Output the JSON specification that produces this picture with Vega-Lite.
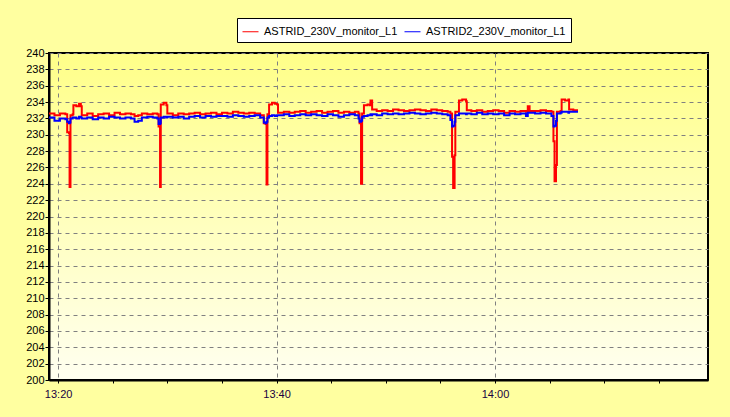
{
  "$schema": "https://vega.github.io/schema/vega-lite/v6.json",
  "width": 659,
  "height": 327,
  "autosize": {"type": "none"},
  "padding": {"left": 49, "top": 53, "right": 22, "bottom": 37},
  "background": "#FFFFA0",
  "config": {
    "font": "Liberation Sans",
    "view": {
      "fill": {"gradient": "linear", "x1": 0, "y1": 0, "x2": 0, "y2": 1, "stops": [{"offset": 0, "color": "#FFFF88"}, {"offset": 1, "color": "#FFFFF0"}]},
      "stroke": "#000000",
      "strokeWidth": 2
    },
    "axis": {
      "gridColor": "#808080",
      "gridDash": [4, 4],
      "gridWidth": 1,
      "gridOpacity": 1,
      "domainColor": "#000000",
      "domainWidth": 2,
      "tickColor": "#000000",
      "tickWidth": 1,
      "labelFont": "Liberation Sans",
      "labelFontSize": 11,
      "labelColor": "#000000"
    }
  },
  "data": {
    "format": {"parse": {"t": "date:'%H:%M:%S'"}},
    "values": [
      {"t": "13:19:10", "ASTRID_230V_monitor_L1": 232.6, "ASTRID2_230V_monitor_L1": 232.1},
      {"t": "13:19:40", "ASTRID_230V_monitor_L1": 232.4, "ASTRID2_230V_monitor_L1": 231.7},
      {"t": "13:20:10", "ASTRID_230V_monitor_L1": 232.6, "ASTRID2_230V_monitor_L1": 232.0},
      {"t": "13:20:40", "ASTRID_230V_monitor_L1": 232.5, "ASTRID2_230V_monitor_L1": 231.9},
      {"t": "13:20:50", "ASTRID_230V_monitor_L1": 230.3, "ASTRID2_230V_monitor_L1": 231.6},
      {"t": "13:21:00", "ASTRID_230V_monitor_L1": 230.2, "ASTRID2_230V_monitor_L1": 231.4},
      {"t": "13:21:03", "ASTRID_230V_monitor_L1": 223.6, "ASTRID2_230V_monitor_L1": 231.5},
      {"t": "13:21:08", "ASTRID_230V_monitor_L1": 232.4, "ASTRID2_230V_monitor_L1": 232.0},
      {"t": "13:21:20", "ASTRID_230V_monitor_L1": 232.5, "ASTRID2_230V_monitor_L1": 232.1},
      {"t": "13:21:24", "ASTRID_230V_monitor_L1": 233.6, "ASTRID2_230V_monitor_L1": 232.1},
      {"t": "13:21:40", "ASTRID_230V_monitor_L1": 233.5, "ASTRID2_230V_monitor_L1": 232.0},
      {"t": "13:21:55", "ASTRID_230V_monitor_L1": 233.8, "ASTRID2_230V_monitor_L1": 232.2},
      {"t": "13:22:05", "ASTRID_230V_monitor_L1": 233.5, "ASTRID2_230V_monitor_L1": 232.1},
      {"t": "13:22:10", "ASTRID_230V_monitor_L1": 232.4, "ASTRID2_230V_monitor_L1": 232.0},
      {"t": "13:22:40", "ASTRID_230V_monitor_L1": 232.6, "ASTRID2_230V_monitor_L1": 232.1},
      {"t": "13:23:10", "ASTRID_230V_monitor_L1": 232.3, "ASTRID2_230V_monitor_L1": 231.9},
      {"t": "13:23:40", "ASTRID_230V_monitor_L1": 232.5, "ASTRID2_230V_monitor_L1": 232.1},
      {"t": "13:24:10", "ASTRID_230V_monitor_L1": 232.6, "ASTRID2_230V_monitor_L1": 232.0},
      {"t": "13:24:40", "ASTRID_230V_monitor_L1": 232.4, "ASTRID2_230V_monitor_L1": 232.2},
      {"t": "13:25:10", "ASTRID_230V_monitor_L1": 232.7, "ASTRID2_230V_monitor_L1": 232.1},
      {"t": "13:25:40", "ASTRID_230V_monitor_L1": 232.5, "ASTRID2_230V_monitor_L1": 232.0},
      {"t": "13:26:10", "ASTRID_230V_monitor_L1": 232.6, "ASTRID2_230V_monitor_L1": 232.1},
      {"t": "13:26:40", "ASTRID_230V_monitor_L1": 232.5, "ASTRID2_230V_monitor_L1": 232.0},
      {"t": "13:27:00", "ASTRID_230V_monitor_L1": 232.3, "ASTRID2_230V_monitor_L1": 231.6},
      {"t": "13:27:20", "ASTRID_230V_monitor_L1": 232.4, "ASTRID2_230V_monitor_L1": 231.7},
      {"t": "13:27:40", "ASTRID_230V_monitor_L1": 232.6, "ASTRID2_230V_monitor_L1": 232.1},
      {"t": "13:28:10", "ASTRID_230V_monitor_L1": 232.5, "ASTRID2_230V_monitor_L1": 232.2},
      {"t": "13:28:40", "ASTRID_230V_monitor_L1": 232.6, "ASTRID2_230V_monitor_L1": 232.1},
      {"t": "13:29:05", "ASTRID_230V_monitor_L1": 232.5, "ASTRID2_230V_monitor_L1": 232.0},
      {"t": "13:29:12", "ASTRID_230V_monitor_L1": 231.0, "ASTRID2_230V_monitor_L1": 231.3},
      {"t": "13:29:20", "ASTRID_230V_monitor_L1": 223.6, "ASTRID2_230V_monitor_L1": 231.4},
      {"t": "13:29:24", "ASTRID_230V_monitor_L1": 233.7, "ASTRID2_230V_monitor_L1": 232.1},
      {"t": "13:29:40", "ASTRID_230V_monitor_L1": 233.9, "ASTRID2_230V_monitor_L1": 232.2},
      {"t": "13:29:55", "ASTRID_230V_monitor_L1": 233.6, "ASTRID2_230V_monitor_L1": 232.1},
      {"t": "13:30:00", "ASTRID_230V_monitor_L1": 232.6, "ASTRID2_230V_monitor_L1": 232.2},
      {"t": "13:30:30", "ASTRID_230V_monitor_L1": 232.4, "ASTRID2_230V_monitor_L1": 232.1},
      {"t": "13:31:00", "ASTRID_230V_monitor_L1": 232.6, "ASTRID2_230V_monitor_L1": 232.2},
      {"t": "13:31:30", "ASTRID_230V_monitor_L1": 232.5, "ASTRID2_230V_monitor_L1": 232.0},
      {"t": "13:32:00", "ASTRID_230V_monitor_L1": 232.6, "ASTRID2_230V_monitor_L1": 232.2},
      {"t": "13:32:30", "ASTRID_230V_monitor_L1": 232.7, "ASTRID2_230V_monitor_L1": 232.3},
      {"t": "13:33:00", "ASTRID_230V_monitor_L1": 232.5, "ASTRID2_230V_monitor_L1": 232.1},
      {"t": "13:33:30", "ASTRID_230V_monitor_L1": 232.6, "ASTRID2_230V_monitor_L1": 232.3},
      {"t": "13:34:00", "ASTRID_230V_monitor_L1": 232.7, "ASTRID2_230V_monitor_L1": 232.2},
      {"t": "13:34:30", "ASTRID_230V_monitor_L1": 232.5, "ASTRID2_230V_monitor_L1": 232.3},
      {"t": "13:35:00", "ASTRID_230V_monitor_L1": 232.7, "ASTRID2_230V_monitor_L1": 232.3},
      {"t": "13:35:30", "ASTRID_230V_monitor_L1": 232.6, "ASTRID2_230V_monitor_L1": 232.2},
      {"t": "13:36:00", "ASTRID_230V_monitor_L1": 232.8, "ASTRID2_230V_monitor_L1": 232.4},
      {"t": "13:36:30", "ASTRID_230V_monitor_L1": 232.7, "ASTRID2_230V_monitor_L1": 232.3},
      {"t": "13:37:00", "ASTRID_230V_monitor_L1": 232.6, "ASTRID2_230V_monitor_L1": 232.2},
      {"t": "13:37:30", "ASTRID_230V_monitor_L1": 232.7, "ASTRID2_230V_monitor_L1": 232.3},
      {"t": "13:38:00", "ASTRID_230V_monitor_L1": 232.6, "ASTRID2_230V_monitor_L1": 232.4},
      {"t": "13:38:30", "ASTRID_230V_monitor_L1": 232.4, "ASTRID2_230V_monitor_L1": 232.1},
      {"t": "13:38:50", "ASTRID_230V_monitor_L1": 231.4, "ASTRID2_230V_monitor_L1": 231.5},
      {"t": "13:39:00", "ASTRID_230V_monitor_L1": 231.3, "ASTRID2_230V_monitor_L1": 231.4},
      {"t": "13:39:05", "ASTRID_230V_monitor_L1": 223.9, "ASTRID2_230V_monitor_L1": 231.6},
      {"t": "13:39:10", "ASTRID_230V_monitor_L1": 232.5, "ASTRID2_230V_monitor_L1": 232.1},
      {"t": "13:39:19", "ASTRID_230V_monitor_L1": 233.7, "ASTRID2_230V_monitor_L1": 232.3},
      {"t": "13:39:35", "ASTRID_230V_monitor_L1": 233.9, "ASTRID2_230V_monitor_L1": 232.4},
      {"t": "13:39:50", "ASTRID_230V_monitor_L1": 233.8, "ASTRID2_230V_monitor_L1": 232.3},
      {"t": "13:40:03", "ASTRID_230V_monitor_L1": 233.7, "ASTRID2_230V_monitor_L1": 232.4},
      {"t": "13:40:08", "ASTRID_230V_monitor_L1": 232.7, "ASTRID2_230V_monitor_L1": 232.4},
      {"t": "13:40:40", "ASTRID_230V_monitor_L1": 232.8, "ASTRID2_230V_monitor_L1": 232.5},
      {"t": "13:41:10", "ASTRID_230V_monitor_L1": 232.7, "ASTRID2_230V_monitor_L1": 232.3},
      {"t": "13:41:40", "ASTRID_230V_monitor_L1": 232.8, "ASTRID2_230V_monitor_L1": 232.4},
      {"t": "13:42:10", "ASTRID_230V_monitor_L1": 232.9, "ASTRID2_230V_monitor_L1": 232.5},
      {"t": "13:42:40", "ASTRID_230V_monitor_L1": 232.7, "ASTRID2_230V_monitor_L1": 232.4},
      {"t": "13:43:10", "ASTRID_230V_monitor_L1": 232.8, "ASTRID2_230V_monitor_L1": 232.5},
      {"t": "13:43:40", "ASTRID_230V_monitor_L1": 232.9, "ASTRID2_230V_monitor_L1": 232.4},
      {"t": "13:44:10", "ASTRID_230V_monitor_L1": 232.7, "ASTRID2_230V_monitor_L1": 232.3},
      {"t": "13:44:40", "ASTRID_230V_monitor_L1": 232.8, "ASTRID2_230V_monitor_L1": 232.5},
      {"t": "13:45:10", "ASTRID_230V_monitor_L1": 232.9, "ASTRID2_230V_monitor_L1": 232.4},
      {"t": "13:45:40", "ASTRID_230V_monitor_L1": 232.7, "ASTRID2_230V_monitor_L1": 232.2},
      {"t": "13:46:10", "ASTRID_230V_monitor_L1": 232.8, "ASTRID2_230V_monitor_L1": 232.4},
      {"t": "13:46:40", "ASTRID_230V_monitor_L1": 232.7, "ASTRID2_230V_monitor_L1": 232.5},
      {"t": "13:47:10", "ASTRID_230V_monitor_L1": 232.8, "ASTRID2_230V_monitor_L1": 232.4},
      {"t": "13:47:30", "ASTRID_230V_monitor_L1": 232.6, "ASTRID2_230V_monitor_L1": 232.0},
      {"t": "13:47:36", "ASTRID_230V_monitor_L1": 231.4, "ASTRID2_230V_monitor_L1": 231.6},
      {"t": "13:47:44", "ASTRID_230V_monitor_L1": 224.0, "ASTRID2_230V_monitor_L1": 231.7},
      {"t": "13:47:50", "ASTRID_230V_monitor_L1": 232.6, "ASTRID2_230V_monitor_L1": 232.2},
      {"t": "13:48:00", "ASTRID_230V_monitor_L1": 233.6, "ASTRID2_230V_monitor_L1": 232.3},
      {"t": "13:48:20", "ASTRID_230V_monitor_L1": 233.7, "ASTRID2_230V_monitor_L1": 232.4},
      {"t": "13:48:33", "ASTRID_230V_monitor_L1": 233.6, "ASTRID2_230V_monitor_L1": 232.4},
      {"t": "13:48:36", "ASTRID_230V_monitor_L1": 234.2, "ASTRID2_230V_monitor_L1": 232.5},
      {"t": "13:48:42", "ASTRID_230V_monitor_L1": 234.2, "ASTRID2_230V_monitor_L1": 232.4},
      {"t": "13:48:45", "ASTRID_230V_monitor_L1": 233.1, "ASTRID2_230V_monitor_L1": 232.5},
      {"t": "13:49:10", "ASTRID_230V_monitor_L1": 232.9, "ASTRID2_230V_monitor_L1": 232.4},
      {"t": "13:49:40", "ASTRID_230V_monitor_L1": 233.0, "ASTRID2_230V_monitor_L1": 232.6},
      {"t": "13:50:10", "ASTRID_230V_monitor_L1": 232.9, "ASTRID2_230V_monitor_L1": 232.5},
      {"t": "13:50:40", "ASTRID_230V_monitor_L1": 233.1, "ASTRID2_230V_monitor_L1": 232.6},
      {"t": "13:51:10", "ASTRID_230V_monitor_L1": 233.0, "ASTRID2_230V_monitor_L1": 232.5},
      {"t": "13:51:40", "ASTRID_230V_monitor_L1": 232.9, "ASTRID2_230V_monitor_L1": 232.6},
      {"t": "13:52:10", "ASTRID_230V_monitor_L1": 233.0, "ASTRID2_230V_monitor_L1": 232.7},
      {"t": "13:52:40", "ASTRID_230V_monitor_L1": 233.1, "ASTRID2_230V_monitor_L1": 232.6},
      {"t": "13:53:10", "ASTRID_230V_monitor_L1": 233.0, "ASTRID2_230V_monitor_L1": 232.5},
      {"t": "13:53:40", "ASTRID_230V_monitor_L1": 232.9, "ASTRID2_230V_monitor_L1": 232.6},
      {"t": "13:54:10", "ASTRID_230V_monitor_L1": 233.1, "ASTRID2_230V_monitor_L1": 232.7},
      {"t": "13:54:40", "ASTRID_230V_monitor_L1": 233.0, "ASTRID2_230V_monitor_L1": 232.6},
      {"t": "13:55:10", "ASTRID_230V_monitor_L1": 232.9, "ASTRID2_230V_monitor_L1": 232.5},
      {"t": "13:55:40", "ASTRID_230V_monitor_L1": 232.8, "ASTRID2_230V_monitor_L1": 232.4},
      {"t": "13:55:55", "ASTRID_230V_monitor_L1": 232.6, "ASTRID2_230V_monitor_L1": 231.8},
      {"t": "13:56:04", "ASTRID_230V_monitor_L1": 227.3, "ASTRID2_230V_monitor_L1": 231.0},
      {"t": "13:56:10", "ASTRID_230V_monitor_L1": 223.5, "ASTRID2_230V_monitor_L1": 231.1},
      {"t": "13:56:18", "ASTRID_230V_monitor_L1": 227.5, "ASTRID2_230V_monitor_L1": 231.6},
      {"t": "13:56:22", "ASTRID_230V_monitor_L1": 232.8, "ASTRID2_230V_monitor_L1": 232.4},
      {"t": "13:56:42", "ASTRID_230V_monitor_L1": 234.2, "ASTRID2_230V_monitor_L1": 232.6},
      {"t": "13:57:00", "ASTRID_230V_monitor_L1": 234.3, "ASTRID2_230V_monitor_L1": 232.6},
      {"t": "13:57:21", "ASTRID_230V_monitor_L1": 234.1, "ASTRID2_230V_monitor_L1": 232.5},
      {"t": "13:57:25", "ASTRID_230V_monitor_L1": 233.0, "ASTRID2_230V_monitor_L1": 232.6},
      {"t": "13:57:50", "ASTRID_230V_monitor_L1": 232.9, "ASTRID2_230V_monitor_L1": 232.5},
      {"t": "13:58:20", "ASTRID_230V_monitor_L1": 233.0, "ASTRID2_230V_monitor_L1": 232.7},
      {"t": "13:58:50", "ASTRID_230V_monitor_L1": 232.8, "ASTRID2_230V_monitor_L1": 232.5},
      {"t": "13:59:20", "ASTRID_230V_monitor_L1": 232.9, "ASTRID2_230V_monitor_L1": 232.6},
      {"t": "13:59:50", "ASTRID_230V_monitor_L1": 233.0, "ASTRID2_230V_monitor_L1": 232.5},
      {"t": "14:00:20", "ASTRID_230V_monitor_L1": 232.9, "ASTRID2_230V_monitor_L1": 232.6},
      {"t": "14:00:50", "ASTRID_230V_monitor_L1": 232.7, "ASTRID2_230V_monitor_L1": 232.4},
      {"t": "14:01:20", "ASTRID_230V_monitor_L1": 232.9, "ASTRID2_230V_monitor_L1": 232.6},
      {"t": "14:01:50", "ASTRID_230V_monitor_L1": 232.8, "ASTRID2_230V_monitor_L1": 232.5},
      {"t": "14:02:20", "ASTRID_230V_monitor_L1": 232.9, "ASTRID2_230V_monitor_L1": 232.6},
      {"t": "14:02:50", "ASTRID_230V_monitor_L1": 232.8, "ASTRID2_230V_monitor_L1": 232.3},
      {"t": "14:03:00", "ASTRID_230V_monitor_L1": 233.5, "ASTRID2_230V_monitor_L1": 232.7},
      {"t": "14:03:10", "ASTRID_230V_monitor_L1": 232.9, "ASTRID2_230V_monitor_L1": 232.7},
      {"t": "14:03:40", "ASTRID_230V_monitor_L1": 232.9, "ASTRID2_230V_monitor_L1": 232.6},
      {"t": "14:04:10", "ASTRID_230V_monitor_L1": 233.0, "ASTRID2_230V_monitor_L1": 232.7},
      {"t": "14:04:40", "ASTRID_230V_monitor_L1": 232.9, "ASTRID2_230V_monitor_L1": 232.6},
      {"t": "14:05:10", "ASTRID_230V_monitor_L1": 232.8, "ASTRID2_230V_monitor_L1": 232.3},
      {"t": "14:05:21", "ASTRID_230V_monitor_L1": 229.2, "ASTRID2_230V_monitor_L1": 231.0},
      {"t": "14:05:27", "ASTRID_230V_monitor_L1": 224.3, "ASTRID2_230V_monitor_L1": 231.1},
      {"t": "14:05:35", "ASTRID_230V_monitor_L1": 226.3, "ASTRID2_230V_monitor_L1": 231.7},
      {"t": "14:05:40", "ASTRID_230V_monitor_L1": 232.8, "ASTRID2_230V_monitor_L1": 232.6},
      {"t": "14:06:00", "ASTRID_230V_monitor_L1": 232.9, "ASTRID2_230V_monitor_L1": 232.7},
      {"t": "14:06:06", "ASTRID_230V_monitor_L1": 234.3, "ASTRID2_230V_monitor_L1": 232.8},
      {"t": "14:06:25", "ASTRID_230V_monitor_L1": 234.2, "ASTRID2_230V_monitor_L1": 232.8},
      {"t": "14:06:43", "ASTRID_230V_monitor_L1": 234.3, "ASTRID2_230V_monitor_L1": 232.7},
      {"t": "14:06:47", "ASTRID_230V_monitor_L1": 233.1, "ASTRID2_230V_monitor_L1": 232.8},
      {"t": "14:07:10", "ASTRID_230V_monitor_L1": 233.0, "ASTRID2_230V_monitor_L1": 232.8},
      {"t": "14:07:36", "ASTRID_230V_monitor_L1": 233.0, "ASTRID2_230V_monitor_L1": 232.8}
    ]
  },
  "transform": [
    {"fold": ["ASTRID_230V_monitor_L1", "ASTRID2_230V_monitor_L1"], "as": ["series", "v"]}
  ],
  "mark": {"type": "line", "interpolate": "step-after", "strokeWidth": 2},
  "encoding": {
    "x": {
      "field": "t",
      "type": "temporal",
      "scale": {
        "domain": [
          {"year": 1900, "month": 1, "date": 1, "hours": 13, "minutes": 19, "seconds": 10},
          {"year": 1900, "month": 1, "date": 1, "hours": 14, "minutes": 19, "seconds": 30}
        ]
      },
      "axis": {
        "title": null,
        "values": [
          {"year": 1900, "month": 1, "date": 1, "hours": 13, "minutes": 20},
          {"year": 1900, "month": 1, "date": 1, "hours": 13, "minutes": 25},
          {"year": 1900, "month": 1, "date": 1, "hours": 13, "minutes": 30},
          {"year": 1900, "month": 1, "date": 1, "hours": 13, "minutes": 35},
          {"year": 1900, "month": 1, "date": 1, "hours": 13, "minutes": 40},
          {"year": 1900, "month": 1, "date": 1, "hours": 13, "minutes": 45},
          {"year": 1900, "month": 1, "date": 1, "hours": 13, "minutes": 50},
          {"year": 1900, "month": 1, "date": 1, "hours": 13, "minutes": 55},
          {"year": 1900, "month": 1, "date": 1, "hours": 14, "minutes": 0},
          {"year": 1900, "month": 1, "date": 1, "hours": 14, "minutes": 5},
          {"year": 1900, "month": 1, "date": 1, "hours": 14, "minutes": 10},
          {"year": 1900, "month": 1, "date": 1, "hours": 14, "minutes": 15}
        ],
        "labelExpr": "minutes(datum.value) % 20 === 0 ? timeFormat(datum.value, '%H:%M') : ''",
        "gridOpacity": {"condition": {"test": "minutes(datum.value) % 20 === 0", "value": 1}, "value": 0},
        "tickSize": 3,
        "labelPadding": 5,
        "labelColor": "#200040",
        "labelFlush": false
      }
    },
    "y": {
      "field": "v",
      "type": "quantitative",
      "scale": {"domain": [200, 240], "nice": false, "zero": false},
      "axis": {
        "title": null,
        "values": [200, 202, 204, 206, 208, 210, 212, 214, 216, 218, 220, 222, 224, 226, 228, 230, 232, 234, 236, 238, 240],
        "tickSize": 4,
        "labelPadding": 1,
        "labelFlush": false
      }
    },
    "color": {
      "field": "series",
      "type": "nominal",
      "scale": {"domain": ["ASTRID_230V_monitor_L1", "ASTRID2_230V_monitor_L1"], "range": ["#FF0000", "#0000FF"]},
      "legend": {
        "title": null,
        "orient": "none",
        "legendX": 188,
        "legendY": -35,
        "direction": "horizontal",
        "fillColor": "#FFFFFF",
        "strokeColor": "#000000",
        "padding": 5,
        "symbolType": "stroke",
        "symbolSize": 256,
        "symbolStrokeWidth": 1,
        "labelFont": "Liberation Sans",
        "labelFontSize": 11,
        "labelColor": "#000000",
        "labelOffset": 5,
        "columnPadding": 4
      }
    }
  }
}
